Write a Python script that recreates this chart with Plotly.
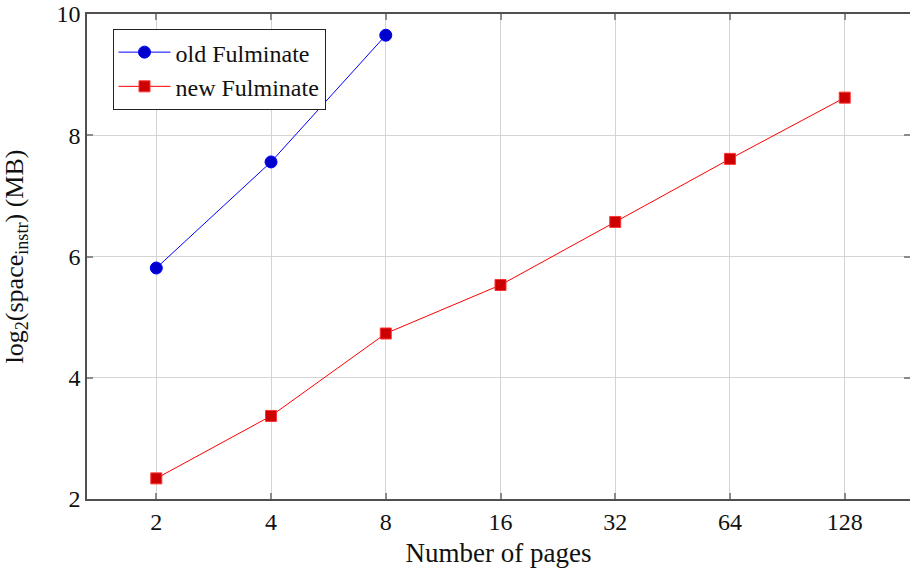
import plotly.graph_objects as go

pages = ["2", "4", "8", "16", "32", "64", "128"]
old_pages = ["2", "4", "8"]
old_vals = [5.81, 7.56, 9.65]
new_vals = [2.34, 3.37, 4.73, 5.53, 6.57, 7.61, 8.62]
y_ticks = [2, 4, 6, 8, 10]

FONT = "Liberation Serif"

fig = go.Figure()
fig.add_trace(go.Scatter(
    x=old_pages, y=old_vals, mode="lines+markers", name="old Fulminate",
    line=dict(color="#0000ff", width=1),
    marker=dict(symbol="circle", size=12, color="#0000cc", line=dict(color="#0000ff", width=1)),
))
fig.add_trace(go.Scatter(
    x=pages, y=new_vals, mode="lines+markers", name="new Fulminate",
    line=dict(color="#ff0000", width=1),
    marker=dict(symbol="square", size=11, color="#cc0000", line=dict(color="#ff3333", width=1)),
))

axis_common = dict(
    showline=True, linecolor="#505050", linewidth=1.5, mirror="ticks",
    ticks="inside", ticklen=6, tickcolor="#8a8a8a", tickwidth=1.5,
    showgrid=True, gridcolor="#d4d4d4", gridwidth=1, zeroline=False,
    tickfont=dict(family=FONT, size=24, color="#111"),
    automargin=False, ticklabeloverflow="allow",
)

fig.update_layout(
    width=910, height=571,
    margin=dict(l=87, r=0, t=14, b=72, autoexpand=False),
    plot_bgcolor="white", paper_bgcolor="white",
    font=dict(family=FONT, size=24, color="#111"),
    showlegend=True,
    legend=dict(
        x=0.031, y=0.969, xanchor="left", yanchor="top",
        bgcolor="white", bordercolor="#222", borderwidth=1,
        font=dict(family=FONT, size=24, color="#111"),
        tracegroupgap=0, itemwidth=52,
    ),
    xaxis=dict(
        type="category", categoryorder="array", categoryarray=pages,
        range=[-0.604, 6.569],
        title=dict(text="Number of pages", font=dict(family=FONT, size=27), standoff=10),
        **axis_common,
    ),
    yaxis=dict(
        range=[2, 10], tickvals=y_ticks,
        title=dict(text="log<sub>2</sub>(space<sub>instr</sub>) (MB)", font=dict(family=FONT, size=26), standoff=30),
        **axis_common,
    ),
)

fig.write_html(
    "out.html",
    config={"displayModeBar": False},
    post_script="document.body.style.margin='0';",
)
